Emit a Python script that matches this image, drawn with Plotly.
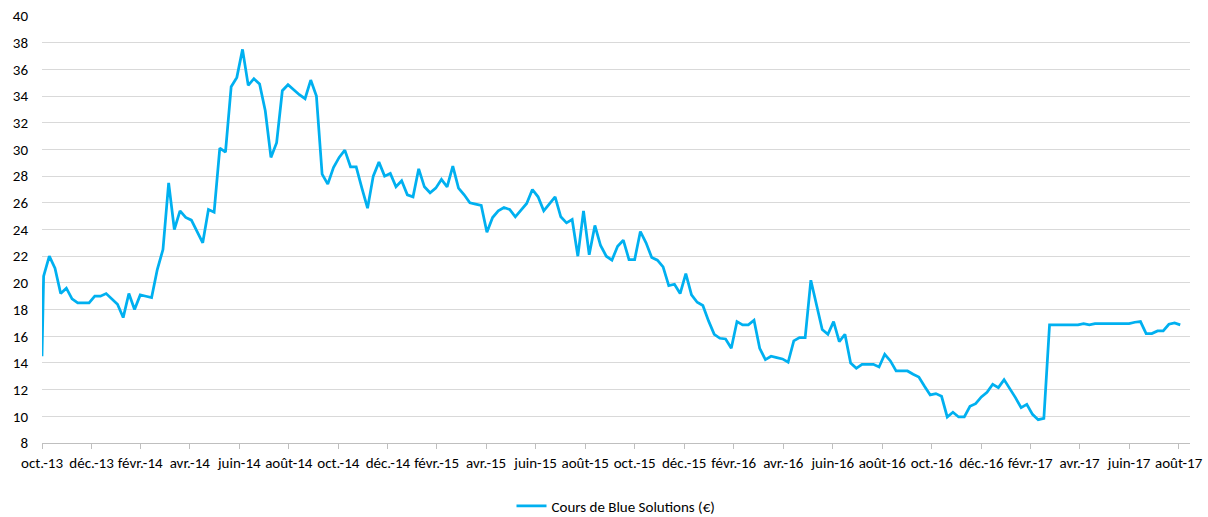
import pandas as pd
import plotly.graph_objects as go

# --- data -------------------------------------------------------------
ipo_date = "2013-10-30"
ipo_price = 14.5
week_start = "2013-11-01"

weekly_prices = [
    20.5, 22.0, 21.1, 19.2, 19.6, 18.8, 18.5, 18.5, 18.5, 19.0,
    19.0, 19.2, 18.8, 18.4, 17.4, 19.2, 18.0, 19.1, 19.0, 18.9,
    21.0, 22.5, 27.5, 24.0, 25.4, 24.9, 24.7, 23.9, 23.0, 25.5,
    25.3, 30.1, 29.8, 34.7, 35.4, 37.5, 34.8, 35.3, 34.9, 32.9,
    29.4, 30.5, 34.4, 34.85, 34.45, 34.1, 33.8, 35.2, 34.0, 28.15,
    27.4, 28.65, 29.4, 29.95, 28.7, 28.7, 27.1, 25.6, 28.0, 29.05,
    28.0, 28.2, 27.2, 27.65, 26.6, 26.45, 28.55, 27.2, 26.75, 27.1,
    27.75, 27.2, 28.75, 27.1, 26.6, 26.0, 25.9, 25.8, 23.8, 24.9,
    25.4, 25.65, 25.5, 24.95, 25.45, 25.95, 27.0, 26.45, 25.4, 25.9,
    26.45, 24.95, 24.5, 24.75, 22.0, 25.4, 22.1, 24.3, 22.8, 22.0,
    21.7, 22.75, 23.2, 21.75, 21.75, 23.85, 23.0, 21.9, 21.7, 21.2,
    19.8, 19.9, 19.2, 20.7, 19.1, 18.55, 18.3, 17.15, 16.15, 15.85,
    15.8, 15.1, 17.1, 16.85, 16.85, 17.2, 15.1, 14.25, 14.5, 14.4,
    14.3, 14.05, 15.65, 15.9, 15.9, 20.2, 18.3, 16.5, 16.15, 17.1,
    15.6, 16.15, 14.0, 13.6, 13.9, 13.9, 13.9, 13.7, 14.65, 14.15,
    13.4, 13.4, 13.4, 13.15, 12.95, 12.25, 11.6, 11.7, 11.5, 9.95,
    10.3, 9.95, 9.95, 10.75, 10.95, 11.45, 11.8, 12.4, 12.15, 12.75,
    12.1, 11.4, 10.65, 10.9, 10.15, 9.75, 9.85, 16.85, 16.85, 16.85,
    16.85, 16.85, 16.85, 16.95, 16.85, 16.95, 16.95, 16.95, 16.95, 16.95,
    16.95, 16.95, 17.05, 17.1, 16.2, 16.2, 16.4, 16.4, 16.9, 17.0,
    16.85,
]

tick_dates = [
    "2013-10-30", "2013-12-30", "2014-02-28", "2014-04-30", "2014-06-30", "2014-08-30",
    "2014-10-30", "2014-12-30", "2015-02-28", "2015-04-30", "2015-06-30", "2015-08-30",
    "2015-10-30", "2015-12-30", "2016-02-29", "2016-04-30", "2016-06-30", "2016-08-30",
    "2016-10-30", "2016-12-30", "2017-02-28", "2017-04-30", "2017-06-30", "2017-08-30",
]
tick_labels = [
    "oct.-13", "déc.-13", "févr.-14", "avr.-14", "juin-14", "août-14",
    "oct.-14", "déc.-14", "févr.-15", "avr.-15", "juin-15", "août-15",
    "oct.-15", "déc.-15", "févr.-16", "avr.-16", "juin-16", "août-16",
    "oct.-16", "déc.-16", "févr.-17", "avr.-17", "juin-17", "août-17",
]
y_ticks = list(range(8, 41, 2))

series_name = "Cours de Blue Solutions (€)"

# --- figure -----------------------------------------------------------
weekly_dates = pd.date_range(week_start, periods=len(weekly_prices), freq="7D")
dates = [pd.Timestamp(ipo_date)] + list(weekly_dates)
prices = [ipo_price] + weekly_prices

FONT = "Carlito, Lato, 'Liberation Sans Narrow', sans-serif"

fig = go.Figure()
fig.add_trace(go.Scatter(
    x=dates, y=prices, mode="lines", name=series_name,
    line=dict(color="#00B0F0", width=2.75),
))

fig.update_layout(
    width=1208, height=517,
    margin=dict(l=42, r=18, t=16, b=74, autoexpand=False),
    paper_bgcolor="white", plot_bgcolor="white",
    font=dict(family=FONT, size=15, color="#000000"),
    showlegend=True,
    legend=dict(orientation="h", x=0.5, xanchor="center", y=-0.148, yanchor="middle",
                font=dict(size=15)),
)
fig.update_xaxes(
    type="date", automargin=False,
    range=[pd.Timestamp("2013-10-30"), pd.Timestamp("2017-09-13")],
    tickmode="array", tickvals=tick_dates, ticktext=tick_labels,
    showgrid=False, showline=True, linecolor="#BFBFBF", linewidth=1,
    ticks="outside", ticklen=5, tickcolor="#BFBFBF",
    tickfont=dict(size=15), tickangle=0, ticklabelstandoff=1,
)
fig.update_yaxes(
    range=[8, 40], tickmode="array", tickvals=y_ticks, automargin=False,
    showgrid=True, gridcolor="#D9D9D9", gridwidth=1,
    zeroline=False, showline=False, ticks="",
    tickfont=dict(size=15), ticklabelstandoff=13,
)

fig.write_html(
    "out.html",
    config={"displayModeBar": False},
    post_script="document.body.style.margin='0';document.body.style.padding='0';",
)
